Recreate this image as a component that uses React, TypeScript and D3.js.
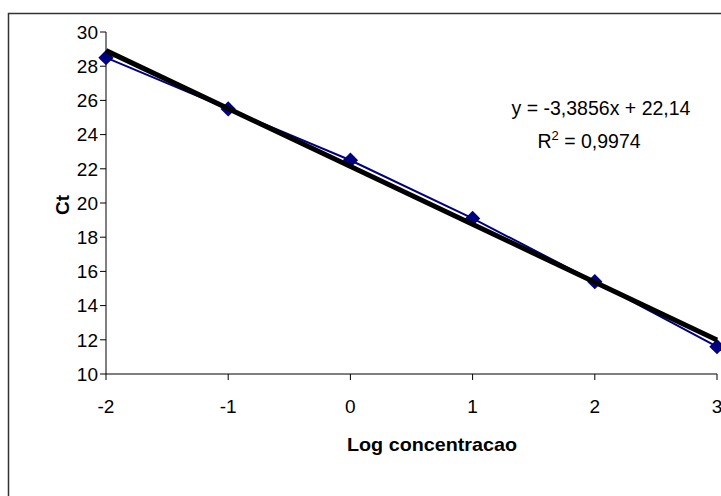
import React from "react";
import * as d3 from "d3";

const logConc = [-2, -1, 0, 1, 2, 3];
const ctValues = [28.5, 25.5, 22.5, 19.1, 15.4, 11.6];
const xTicks = [-2, -1, 0, 1, 2, 3];
const yTicks = [10, 12, 14, 16, 18, 20, 22, 24, 26, 28, 30];
const slope = -3.3856;
const intercept = 22.14;
const eqText = "y = -3,3856x + 22,14";
const r2Text = " = 0,9974";

export default function App() {
  const W = 721, H = 496;
  const x = d3.scaleLinear().domain([-2, 3]).range([106, 717]);
  const y = d3.scaleLinear().domain([10, 30]).range([374, 32]);
  const line = d3.line<number>().x((d) => x(d)).y((_, i) => y(ctValues[i]));
  const trend = [-2, 3].map((v) => [x(v), y(slope * v + intercept)]);
  const font = "'Liberation Sans', Arial, sans-serif";
  const diamond = d3.symbol().type(d3.symbolDiamond2).size(150)();
  const fs = 19;
  return (
    <svg width={W} height={H} style={{ position: "absolute", left: 0, top: 0, background: "#fff" }} fontFamily={font}>
      <rect x={8.5} y={13.5} width={730} height={500} fill="#fff" stroke="#333" strokeWidth={1.5} />
      {/* axes */}
      <line x1={x(-2)} x2={x(-2)} y1={y(30)} y2={y(10)} stroke="#000" />
      <line x1={x(-2)} x2={x(3)} y1={y(10)} y2={y(10)} stroke="#000" />
      {yTicks.map((t) => (
        <g key={"y" + t}>
          <line x1={x(-2) - 6} x2={x(-2)} y1={y(t)} y2={y(t)} stroke="#000" />
          <text x={x(-2) - 8} y={y(t)} dy="0.36em" textAnchor="end" fontSize={fs}>{t}</text>
        </g>
      ))}
      {xTicks.map((t) => (
        <g key={"x" + t}>
          <line x1={x(t)} x2={x(t)} y1={y(10)} y2={y(10) + 6} stroke="#000" />
          <text x={x(t)} y={y(10) + 39} textAnchor="middle" fontSize={fs}>{t}</text>
        </g>
      ))}
      {/* series */}
      <path d={line(logConc) || ""} fill="none" stroke="#000080" strokeWidth={2} />
      {logConc.map((v, i) => (
        <path key={"m" + i} d={diamond || ""} transform={`translate(${x(v)},${y(ctValues[i])})`} fill="#000080" />
      ))}
      <line x1={trend[0][0]} y1={trend[0][1]} x2={trend[1][0]} y2={trend[1][1]} stroke="#000" strokeWidth={5} />
      {/* equation */}
      <text x={601} y={115} textAnchor="middle" fontSize={19.5}>{eqText}</text>
      <text x={589} y={148} textAnchor="middle" fontSize={19.5}>
        R<tspan dy={-8} fontSize={13}>2</tspan><tspan dy={8}>{r2Text}</tspan>
      </text>
      {/* titles */}
      <text x={432} y={451} textAnchor="middle" fontSize={fs} fontWeight="bold" textLength={170} lengthAdjust="spacingAndGlyphs">Log concentracao</text>
      <text transform={`translate(69,${y(20) + 2}) rotate(-90)`} textAnchor="middle" fontSize={fs} fontWeight="bold">Ct</text>
    </svg>
  );
}
